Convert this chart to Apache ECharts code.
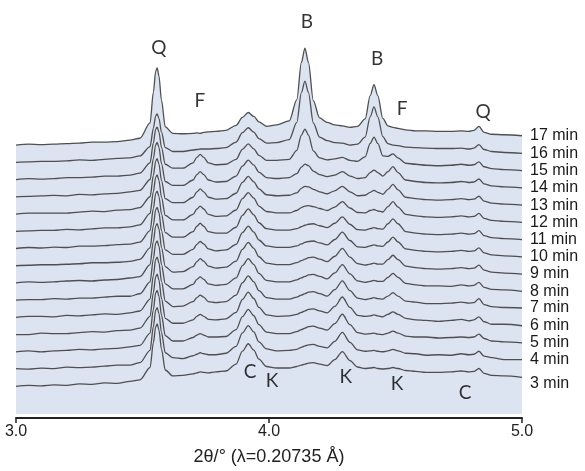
<!DOCTYPE html>
<html lang="en">
<head>
<meta charset="UTF-8">
<title>XRD waterfall</title>
<script src="https://cdn.jsdelivr.net/npm/echarts@6/dist/echarts.min.js"></script>
</head>
<body style="margin:0">
<div id="main" style="width:585px;height:471px"></div>
<script>
// 2theta grid (deg), denser where the peaks are
var twoTheta = [3.00, 3.05, 3.10, 3.15, 3.20, 3.25, 3.30, 3.35, 3.40, 3.45,
    3.49, 3.53, 3.543, 3.552, 3.558, 3.565, 3.575, 3.59,
    3.62, 3.66, 3.70, 3.715, 3.728, 3.742, 3.76, 3.79, 3.83,
    3.87, 3.895, 3.918, 3.94, 3.96, 3.99, 4.03,
    4.08, 4.11, 4.128, 4.142, 4.156, 4.175, 4.20, 4.23,
    4.26, 4.29, 4.32, 4.35,
    4.38, 4.40, 4.415, 4.43, 4.45, 4.47, 4.49, 4.51, 4.54, 4.58,
    4.62, 4.67, 4.72, 4.76, 4.79, 4.81, 4.83, 4.85, 4.88, 4.93, 5.00];

// intensities of each scan (arbitrary units)
var t03 = [0, 1, 0.5, 1.5, 1, 2.5, 2, 3.5, 3, 5, 6.5, 19, 44, 60, 63, 57, 37.5, 16.5, 10.5, 11, 12.5, 13.5, 14.5, 14, 13.5, 14.5, 15.5, 22.5, 35.5, 43, 36.5, 27.5, 20, 18.5, 18.5, 20, 21.5, 22.5, 23.5, 24, 22.5, 21, 27, 35, 26, 19.5, 18, 18.5, 19, 18, 17.5, 18, 19, 18, 16, 15, 14, 14, 14.5, 15.5, 14.5, 15, 18, 13, 11, 10.5, 9];
var t04 = [0.5, 0, 1, 0.5, 2, 1.5, 2, 3, 4, 4, 6.5, 19, 43, 59.5, 62, 56, 37, 16.5, 11.5, 10.5, 13.5, 15, 16.5, 15.5, 14.5, 14.5, 16, 23, 36.5, 44, 37.5, 27.5, 20.5, 18.5, 19, 20, 22, 23.5, 24.5, 25, 23, 21.5, 28, 37, 27, 19.5, 18, 18.5, 19, 18, 17.5, 18.5, 20, 18.5, 16, 15.5, 14, 14.5, 14, 15.5, 14.5, 15, 18, 13, 11.5, 9.5, 9.5];
var t05 = [0, 1, 0, 1, 1.5, 2.5, 2, 3, 3.5, 5, 6.5, 19, 43, 59.5, 62, 56, 37, 16.5, 11, 11, 14.5, 17, 18.5, 17, 15, 15, 15.5, 22.5, 35.5, 43, 36.5, 27.5, 20, 18.5, 18.5, 20.5, 22.5, 24, 25.5, 26, 24, 22, 28.5, 38, 27.5, 19.5, 18, 18.5, 19, 18, 17.5, 19, 21, 19, 16, 15, 15, 14, 14.5, 15, 14.5, 15, 18, 13.5, 11, 10, 9];
var t06 = [0, 0, 1.5, 1, 1, 2, 3, 2.5, 4, 4.5, 6.5, 18.5, 42.5, 58.5, 61, 55, 36.5, 16.5, 11.5, 11.5, 15, 18.5, 20.5, 18.5, 15.5, 15, 16, 22.5, 35.5, 43, 36.5, 27.5, 20, 18.5, 19, 20.5, 22.5, 24, 25.5, 26, 24, 22, 28.5, 38, 27.5, 19.5, 18.5, 19, 20, 19, 18, 20.5, 23, 20.5, 16.5, 15, 14.5, 13.5, 14.5, 15.5, 14, 15, 18, 13, 10.5, 10.5, 9];
var t07 = [0, 1, 1, 0.5, 2, 1.5, 2.5, 3.5, 3, 4.5, 6.5, 18.5, 42.5, 58.5, 61, 55, 36.5, 16.5, 11, 11.5, 16, 20, 22.5, 20.5, 16, 15, 16, 22.5, 35, 42, 36, 27, 20, 18.5, 18.5, 20.5, 22.5, 24, 25.5, 26, 24, 21.5, 28, 37, 27, 19.5, 18, 19, 20, 19, 18.5, 21.5, 25, 21.5, 16.5, 15.5, 14, 14, 14.5, 15.5, 14.5, 15, 19, 13, 11, 10, 9.5];
var t08 = [0, 0.5, 0.5, 1.5, 1, 2, 2, 3, 4, 4, 6.5, 18.5, 42, 57.5, 60, 54.5, 36, 16.5, 11.5, 11.5, 16, 21, 23.5, 21, 16.5, 15, 16, 22.5, 35, 42, 36, 27, 20, 18.5, 18.5, 20.5, 22.5, 24, 25.5, 26, 24, 21.5, 27.5, 36, 26.5, 19.5, 18, 19, 20, 19, 19, 23, 27, 23, 17, 15.5, 14.5, 14.5, 14, 15.5, 14.5, 15, 18, 13, 11, 10.5, 9];
var t09 = [0, 1, 0.5, 1, 2, 2.5, 2, 3, 3.5, 5, 6.5, 18.5, 42, 57.5, 60, 54.5, 36, 16.5, 11, 11.5, 16.5, 21.5, 24.5, 22, 17, 15, 16, 22, 34, 41, 35, 26.5, 20, 18.5, 18.5, 20.5, 22.5, 24, 25.5, 26, 24, 21.5, 27, 35, 26, 19.5, 18, 19, 20, 19, 19, 23.5, 28, 23.5, 17, 15.5, 14.5, 14, 14.5, 15.5, 14.5, 15, 18, 13, 11, 10, 9];
var t10 = [0, 0.5, 1, 1, 1.5, 2, 3, 3, 3.5, 4.5, 6.5, 18, 41, 56.5, 59, 53.5, 35.5, 16, 11.5, 11.5, 16.5, 21.5, 24.5, 22, 17, 15, 16, 21.5, 33.5, 40, 34, 26, 20, 18.5, 18.5, 20, 22, 23.5, 24.5, 25, 23, 21, 26.5, 34, 25.5, 19, 18.5, 20, 21, 20, 19.5, 24, 29, 24, 17, 15.5, 14.5, 14, 14.5, 15.5, 14.5, 15, 18, 13, 11, 10, 9];
var t11 = [0, 1, 0.5, 1.5, 1, 2.5, 2.5, 3, 4, 4.5, 6.5, 18, 40.5, 55.5, 58, 52.5, 35, 16, 11.5, 11.5, 17, 22.5, 25.5, 22.5, 17, 15.5, 15.5, 21.5, 33.5, 40, 34, 26, 20, 18.5, 18.5, 20, 22, 23.5, 24.5, 25, 23, 21, 25.5, 32, 24.5, 19, 18.5, 20, 21, 20, 19.5, 25, 30, 25, 17, 15.5, 14.5, 14, 14.5, 15.5, 14.5, 15, 18, 13, 11, 10, 9];
var t12 = [0, 0.5, 1, 1, 2, 1.5, 2.5, 3.5, 3.5, 4.5, 6.5, 18, 40, 54.5, 57, 51.5, 34.5, 16, 11.5, 11.5, 17, 22.5, 25.5, 22.5, 17, 15, 15.5, 21.5, 33, 39, 33.5, 25.5, 20, 18.5, 18.5, 21, 24, 25.5, 26, 25, 23, 21, 24.5, 30, 23.5, 19, 18.5, 21, 22, 20.5, 19.5, 25, 30, 24.5, 17, 15.5, 14.5, 14, 14.5, 15.5, 14.5, 15, 18, 13, 11, 10, 9];
var t13 = [0, 1, 1, 1, 1, 2, 3, 2.5, 4, 4.5, 6.5, 17.5, 39, 53.5, 56, 50.5, 34, 15.5, 11.5, 11.5, 17, 22.5, 25.5, 22.5, 17, 15, 15.5, 21, 32, 38, 32.5, 25.5, 19.5, 18.5, 19, 21.5, 26, 28, 27.5, 25, 22.5, 20.5, 23.5, 28, 22.5, 18.5, 19, 22, 24, 22, 20, 25, 30, 24.5, 17, 15.5, 14.5, 14, 14.5, 15.5, 14.5, 15, 18, 13, 11, 10, 9];
var t14 = [0, 0.5, 1, 1.5, 1, 2.5, 2, 3, 3.5, 5, 6.5, 17.5, 38.5, 52.5, 55, 50, 33.5, 15.5, 11.5, 11.5, 17, 22.5, 25.5, 22.5, 17, 15, 15.5, 21, 31, 37, 32, 25, 19.5, 18.5, 19.5, 23.5, 30, 33, 31.5, 26, 22.5, 20.5, 22, 25.5, 21, 18.5, 19.5, 24.5, 27, 24.5, 21, 25.5, 30.5, 24.5, 17, 15.5, 14.5, 14, 14.5, 15.5, 14.5, 15, 18, 13, 11, 10, 9];
var t15 = [0, 1, 0.5, 1, 2, 2, 2.5, 3.5, 3.5, 4.5, 6.5, 17, 37, 51, 53, 48, 32.5, 15.5, 11.5, 11.5, 17, 22.5, 25.5, 22.5, 17, 15, 15.5, 20.5, 30.5, 36, 31, 24.5, 19.5, 19.5, 20.5, 29.5, 45, 51, 45, 29, 22, 20, 21, 22.5, 19.5, 18.5, 23, 36.5, 43, 36.5, 24, 23.5, 26, 22, 16.5, 15.5, 14.5, 14, 14.5, 15.5, 14.5, 15, 18, 13, 11, 10, 9];
var t16 = [0, 0.5, 1, 1, 1.5, 2.5, 2, 3, 4, 4.5, 6.5, 16, 34.5, 47, 49, 44.5, 30.5, 15, 11, 11, 12.5, 13, 13.5, 13.5, 13.5, 14, 15, 20.5, 30, 35, 30.5, 24, 19.5, 20, 23, 40.5, 70.5, 82, 70.5, 40, 25.5, 22, 20, 19.5, 17.5, 18.5, 25.5, 46, 56, 46, 26, 19, 17.5, 17, 15.5, 15, 14.5, 14, 14, 14.5, 13.5, 14.5, 18, 13, 11, 10, 9];
var t17 = [0, 1, 0.5, 1, 1.5, 2, 3, 3, 3.5, 5, 7, 22.5, 53.5, 74.5, 78, 70, 45.5, 18.5, 12, 11.5, 12, 12.5, 12, 13, 13.5, 14, 15, 20, 28, 33, 29, 23.5, 19, 20.5, 24.5, 46, 83.5, 98, 83.5, 45, 27.5, 23, 20.5, 19.5, 18, 19, 26.5, 50, 61, 50, 27, 19.5, 18, 17, 15.5, 14.5, 14.5, 14, 14, 14.5, 14, 15, 19, 13, 11, 10.5, 9.5];

var traces = [t03, t04, t05, t06, t07, t08, t09, t10, t11, t12, t13, t14, t15, t16, t17];
var traceNames = ['3 min', '4 min', '5 min', '6 min', '7 min', '8 min', '9 min', '10 min',
    '11 min', '12 min', '13 min', '14 min', '15 min', '16 min', '17 min'];

// phase letters: position in 2theta and height in plot units
var peakLetters = ['Q', 'F', 'B', 'B', 'F', 'Q', 'C', 'K', 'K', 'K', 'C'];
var letterX = [3.565, 3.727, 4.15, 4.427, 4.526, 4.846, 3.925, 4.012, 4.304, 4.506, 4.775];
var letterY = [374, 320, 400, 363, 312, 309, 47, 38, 42, 34, 25];

var myChart = echarts.init(document.getElementById('main'));

var base = 32, step = 17.4;   // waterfall offset of each scan
var lineColor = '#4f4f4f';
var series = [];

// newest scan first: it carries the filled area, older ones drawn over it
for (var k = traces.length - 1; k >= 0; k--) {
    var off = base + step * k;
    var pts = [];
    for (var i = 0; i < twoTheta.length; i++) {
        pts.push([twoTheta[i], traces[k][i] + off]);
    }
    var s = {
        name: traceNames[k],
        type: 'line',
        data: pts,
        showSymbol: false,
        smooth: 0.3,
        smoothMonotone: 'x',
        silent: true,
        lineStyle: {color: lineColor, width: 1.3},
        endLabel: {
            show: true,
            distance: 8,
            offset: k === 0 ? [0, 6] : [0, 0],
            formatter: function (p) { return p.seriesName; },
            fontFamily: 'Liberation Sans',
            fontSize: 16,
            color: '#1a1a1a'
        }
    };
    if (k === traces.length - 1) {
        s.areaStyle = {color: '#dce3f1', opacity: 1, origin: 4};
    }
    series.push(s);
}

// side edges of the filled block
var top = traces[traces.length - 1];
var topOff = base + step * (traces.length - 1);
series.push({
    type: 'line', silent: true, showSymbol: false,
    lineStyle: {color: '#777', width: 1.2},
    data: [[twoTheta[0], 4], [twoTheta[0], top[0] + topOff]]
});
series.push({
    type: 'line', silent: true, showSymbol: false,
    lineStyle: {color: '#777', width: 1.2},
    data: [[twoTheta[twoTheta.length - 1], 4], [twoTheta[twoTheta.length - 1], top[top.length - 1] + topOff]]
});

var letterData = [];
for (var j = 0; j < peakLetters.length; j++) {
    letterData.push([letterX[j], letterY[j], peakLetters[j]]);
}
series.push({
    type: 'scatter',
    silent: true,
    z: 20,
    symbolSize: 0,
    itemStyle: {color: '#000'},
    data: letterData,
    label: {
        show: true,
        position: 'inside',
        formatter: function (p) { return p.value[2]; },
        fontFamily: 'Lato',
        fontSize: 19,
        color: '#000'
    }
});

var option = {
    animation: false,
    grid: {left: 16, right: 63, top: 22, bottom: 49},
    xAxis: {
        type: 'value',
        min: 3,
        max: 5,
        interval: 1,
        name: '2θ/° (λ=0.20735 Å)',
        nameLocation: 'middle',
        nameGap: 30,
        nameTextStyle: {fontFamily: 'Liberation Sans', fontSize: 18, color: '#222'},
        axisLine: {lineStyle: {color: '#222', width: 1.8}},
        axisTick: {length: 5, lineStyle: {color: '#222', width: 1.5}},
        axisLabel: {
            formatter: function (v) { return v.toFixed(1); },
            fontFamily: 'Liberation Sans',
            fontSize: 16,
            color: '#222',
            margin: 6
        },
        splitLine: {show: false}
    },
    yAxis: {
        type: 'value',
        min: 0,
        max: 400,
        show: false
    },
    series: series
};
myChart.setOption(option);
</script>
</body>
</html>
